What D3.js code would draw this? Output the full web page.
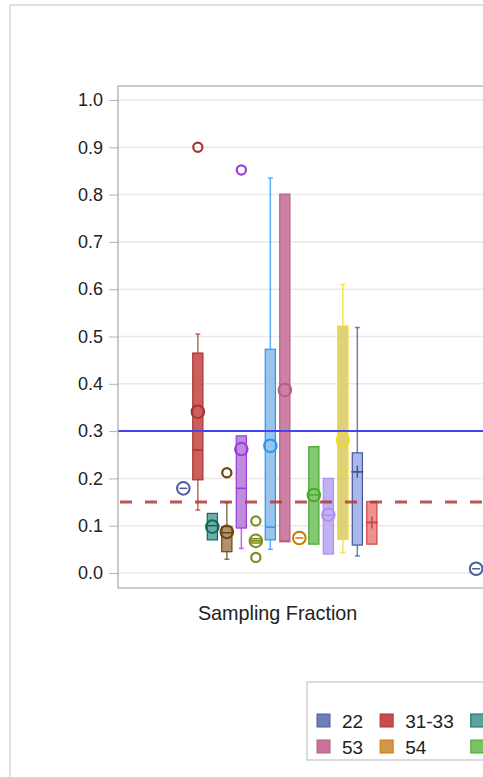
<!DOCTYPE html>
<html>
<head>
<meta charset="utf-8">
<script src="https://cdn.jsdelivr.net/npm/d3@7"></script>
<style>
	body { margin: 0; background: #fff; overflow: hidden; }
	text { font-family: "Liberation Sans", Arial, sans-serif; fill: #222; }
</style>
</head>
<body>
<script>
const xCategories = ["Sampling Fraction", "Response Rate"];
const groups = ["22", "31-33", "42", "44-45", "48-49", "51", "52", "53", "54", "55", "56", "61", "62", "71"];
const yTicks = [0, 0.1, 0.2, 0.3, 0.4, 0.5, 0.6, 0.7, 0.8, 0.9, 1.0];

// Sampling Fraction stats per group (null = not drawn)
const sfQ1 =     [0.179, 0.197, 0.070, 0.045, 0.095, 0.063, 0.070, 0.066, 0.074, 0.061, 0.040, 0.071, 0.059, 0.061];
const sfMedian = [0.179, 0.260, 0.100, 0.085, 0.179, 0.068, 0.097, 0.068, 0.074, 0.165, 0.122, 0.218, 0.214, 0.107];
const sfQ3 =     [0.179, 0.465, 0.126, 0.098, 0.290, 0.073, 0.473, 0.801, 0.074, 0.267, 0.200, 0.522, 0.254, 0.151];
const sfMean =   [0.179, 0.341, 0.098, 0.087, 0.262, 0.068, 0.269, 0.387, 0.074, 0.165, 0.123, 0.281, 0.214, 0.107];
const sfLow =    [null, 0.133, null, 0.029, 0.052, null, 0.050, null, null, null, null, 0.043, 0.036, null];
const sfHigh =   [null, 0.505, null, 0.149, null, null, 0.835, null, null, null, null, 0.610, 0.519, null];
const sfOutliers = [[], [0.90], [], [0.212], [0.852], [0.110, 0.033], [], [], [], [], [], [], [], []];

// Second category: only group 22 is inside the view
const rrMean22 = 0.009;

const fillColors = ["#6F7EB3", "#C94B4B", "#5EA39B", "#A9865B", "#B67FD9", "#BABC5C", "#8EBFEA",
	"#C9729C", "#CF974B", "#77C265", "#B9A9F3", "#DCCC6E", "#9DB0EA", "#F08484"];
const lineColors = ["#4C5C9E", "#A8352E", "#0B6B62", "#6B4513", "#9D3CDB", "#7F8E1F", "#2597FA",
	"#B26084", "#D17800", "#47A82A", "#B38EF3", "#F2DC1A", "#445694", "#CC4444"];
const meanSymbols = groups.map((g, i) => i < 12 ? "circle" : "plus");

const width = 483, height = 777;
const plotLeft = 118, plotRight = 730, plotTop = 86, plotBottom = 588;

const svg = d3.select("body").append("svg")
	.attr("width", width)
	.attr("height", height);

// outer graph border
svg.append("rect")
	.attr("x", 10).attr("y", 5)
	.attr("width", 900).attr("height", 900)
	.attr("fill", "none")
	.attr("stroke", "#D6D6D6")
	.attr("stroke-width", 1.5);

const y = d3.scaleLinear().domain([0, 1]).range([573, 100]);
const x = d3.scaleBand().domain(xCategories).range([plotLeft, plotRight])
	.paddingInner(0).paddingOuter(0.045);
const groupSpan = 203;
const x1 = d3.scaleBand().domain(groups).range([0, groupSpan]).paddingInner(0.3).paddingOuter(0.15);

function gx(cat, g) {
	return x(cat) + (x.bandwidth() - groupSpan) / 2 + x1(g) + x1.bandwidth() / 2;
}

// gridlines
svg.append("g")
	.selectAll("line")
	.data(yTicks)
	.join("line")
	.attr("x1", plotLeft).attr("x2", plotRight)
	.attr("y1", d => y(d)).attr("y2", d => y(d))
	.attr("stroke", "#E9E9E9")
	.attr("stroke-width", 1.5);

// y axis
const yAxis = d3.axisLeft(y).tickValues(yTicks).tickFormat(d3.format(".1f"))
	.tickSize(9).tickPadding(6);
const yg = svg.append("g")
	.attr("transform", "translate(" + plotLeft + ",0)")
	.call(yAxis);
yg.select(".domain").remove();
yg.selectAll(".tick line").attr("stroke", "#B5B5B5");
yg.selectAll(".tick text")
	.style("font-family", '"Liberation Sans", Arial, sans-serif')
	.style("font-size", "18px")
	.attr("fill", "#222");

// x axis labels
svg.append("g")
	.selectAll("text")
	.data(xCategories)
	.join("text")
	.attr("x", d => x(d) + x.bandwidth() / 2)
	.attr("y", 620)
	.attr("text-anchor", "middle")
	.style("font-size", "19.8px")
	.text(d => d);

// boxes
const plot = svg.append("g");
groups.forEach((g, i) => {
	const cx = gx(xCategories[0], g);
	const bw = x1.bandwidth();
	const lc = lineColors[i], fc = fillColors[i];
	const capW = 5;

	if (sfHigh[i] != null) {
		plot.append("line").attr("x1", cx).attr("x2", cx)
			.attr("y1", y(sfQ3[i])).attr("y2", y(sfHigh[i]))
			.attr("stroke", lc).attr("stroke-width", 1.5).attr("opacity", 0.75);
		plot.append("line").attr("x1", cx - capW / 2).attr("x2", cx + capW / 2)
			.attr("y1", y(sfHigh[i])).attr("y2", y(sfHigh[i]))
			.attr("stroke", lc).attr("stroke-width", 1.5).attr("opacity", 0.75);
	}
	if (sfLow[i] != null) {
		plot.append("line").attr("x1", cx).attr("x2", cx)
			.attr("y1", y(sfQ1[i])).attr("y2", y(sfLow[i]))
			.attr("stroke", lc).attr("stroke-width", 1.5).attr("opacity", 0.75);
		plot.append("line").attr("x1", cx - capW / 2).attr("x2", cx + capW / 2)
			.attr("y1", y(sfLow[i])).attr("y2", y(sfLow[i]))
			.attr("stroke", lc).attr("stroke-width", 1.5).attr("opacity", 0.75);
	}
	if (sfQ3[i] > sfQ1[i]) {
		plot.append("rect")
			.attr("x", cx - bw / 2).attr("width", bw)
			.attr("y", y(sfQ3[i])).attr("height", y(sfQ1[i]) - y(sfQ3[i]))
			.attr("fill", fc).attr("fill-opacity", 0.9)
			.attr("stroke", lc).attr("stroke-width", 1.2);
	}
	const half = sfQ3[i] > sfQ1[i] ? bw / 2 : 4;
	plot.append("line")
		.attr("x1", cx - half).attr("x2", cx + half)
		.attr("y1", y(sfMedian[i])).attr("y2", y(sfMedian[i]))
		.attr("stroke", lc).attr("stroke-width", 1.5);

	if (meanSymbols[i] === "circle") {
		plot.append("circle")
			.attr("cx", cx).attr("cy", y(sfMean[i])).attr("r", 6.3)
			.attr("fill", "none").attr("stroke", lc).attr("stroke-width", 2);
	} else {
		plot.append("path")
			.attr("transform", "translate(" + cx + "," + y(sfMean[i]) + ")")
			.attr("d", "M-6,0H6M0,-6V6")
			.attr("stroke", lc).attr("stroke-width", 1.5).attr("fill", "none");
	}

	sfOutliers[i].forEach(v => {
		plot.append("circle")
			.attr("cx", cx).attr("cy", y(v)).attr("r", 4.6)
			.attr("fill", "none").attr("stroke", lc).attr("stroke-width", 2.2);
	});
});

// second category, group 22
{
	const cx = gx(xCategories[1], groups[0]);
	plot.append("circle")
		.attr("cx", cx).attr("cy", y(rrMean22)).attr("r", 6.3)
		.attr("fill", "none").attr("stroke", lineColors[0]).attr("stroke-width", 2);
	plot.append("line")
		.attr("x1", cx - 4).attr("x2", cx + 4)
		.attr("y1", y(rrMean22)).attr("y2", y(rrMean22))
		.attr("stroke", lineColors[0]).attr("stroke-width", 1.5);
}

// reference lines
svg.append("line")
	.attr("x1", plotLeft).attr("x2", plotRight)
	.attr("y1", y(0.3)).attr("y2", y(0.3))
	.attr("stroke", "#4444F2").attr("stroke-width", 2);
svg.append("line")
	.attr("x1", plotLeft + 2).attr("x2", plotRight)
	.attr("y1", y(0.15)).attr("y2", y(0.15))
	.attr("stroke", "#B03A3A").attr("stroke-opacity", 0.85)
	.attr("stroke-width", 3)
	.attr("stroke-dasharray", "12,13");

// plot frame
svg.append("rect")
	.attr("x", plotLeft).attr("y", plotTop)
	.attr("width", plotRight - plotLeft).attr("height", plotBottom - plotTop)
	.attr("fill", "none")
	.attr("stroke", "#A8A8A8")
	.attr("stroke-width", 1.2);

// legend
const legend = svg.append("g");
legend.append("rect")
	.attr("x", 307).attr("y", 682)
	.attr("width", 600).attr("height", 78)
	.attr("fill", "none")
	.attr("stroke", "#CFCFCF")
	.attr("stroke-width", 1.5);

const nCols = 7;
const legendFont = "19px";
const colWidths = [];
const measure = legend.append("text").style("font-size", legendFont);
groups.forEach((g, i) => {
	const c = i % nCols;
	measure.text(g);
	const w = measure.node().getComputedTextLength();
	colWidths[c] = Math.max(colWidths[c] || 0, w);
});
measure.remove();
const colX = [];
let cur = 317;
for (let c = 0; c < nCols; c++) {
	colX.push(cur);
	cur += 14 + 11 + colWidths[c] + 17;
}

groups.forEach((g, i) => {
	const c = i % nCols, r = Math.floor(i / nCols);
	const ly = 714 + r * 26;
	legend.append("rect")
		.attr("x", colX[c]).attr("y", ly)
		.attr("width", 13).attr("height", 13)
		.attr("fill", fillColors[i])
		.attr("stroke", lineColors[i])
		.attr("stroke-width", 1);
	legend.append("text")
		.attr("x", colX[c] + 25).attr("y", ly + 13.5)
		.style("font-size", legendFont)
		.text(g);
});
</script>
</body>
</html>
